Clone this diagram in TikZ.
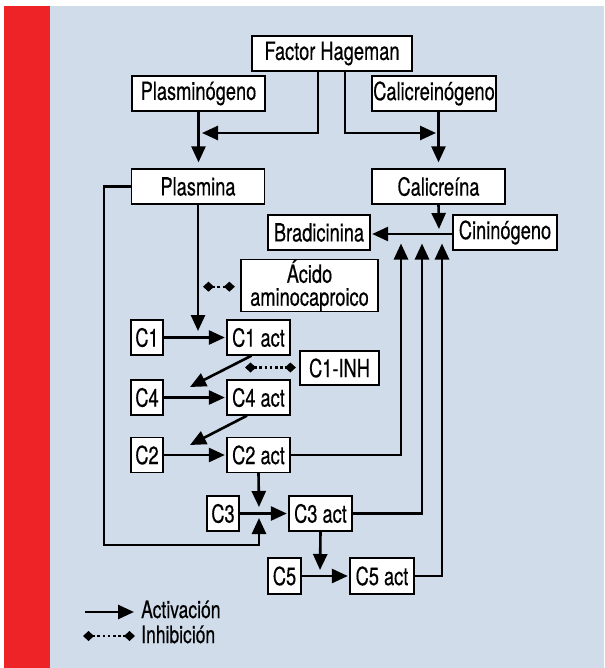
\documentclass[tikz,border=0pt]{standalone}
\usepackage{fontspec}
\setmainfont[FakeStretch=0.73,FakeBold=0.4]{TeX Gyre Heros}
\usetikzlibrary{arrows.meta}
\usetikzlibrary{positioning}

\definecolor{barred}{RGB}{238,35,39}
\definecolor{bgblue}{RGB}{208,220,234}

\begin{document}
\begin{tikzpicture}[
    x=1pt, y=-1pt,
    every node/.style={
      font=\fontsize{25}{23}\selectfont
    },
    box/.style={
      draw,
      fill=white,
      line width=1.3pt,
      inner sep=0pt,
      minimum height=35pt
    },
    legend/.style={
      anchor=west,
      inner sep=0pt,
      text height=16pt,
      text depth=4pt,
      font=\fontsize{24}{23}\selectfont
    },
    act/.style={
      line width=2.6pt,
      -{Triangle[length=16pt,width=14pt]}
    },
    inh/.style={
      line width=2.4pt,
      dash pattern=on 2.6pt off 2.6pt,
      {Diamond[length=11pt,width=10pt]}-{Diamond[length=11pt,width=10pt]}
    }
    ]
    \useasboundingbox (0,0) rectangle (604,668);
    \fill[barred] (4,6) rectangle (50,668);
    \fill[bgblue] (50,6) rectangle (604,668);

    \node[box, minimum width=160pt] (hageman) at (332,53.5) {Factor Hageman};
    \node[box, minimum width=133pt] (plasminogeno) at (198.5,93.5) {Plasminógeno};
    \node[box, minimum width=124pt] (calicreinogeno) at (434,93.5) {Calicreinógeno};
    \node[box, minimum width=133pt] (plasmina) at (198,186.5) {Plasmina};
    \node[box, minimum width=133pt] (calicreina) at (438.5,186.5) {Calicreína};
    \node[box, minimum width=102pt] (bradicinina) at (319,232.5) {Bradicinina};
    \node[box, minimum width=104pt] (cininogeno) at (505,232.5) {Cininógeno};
    \node[box, minimum width=137pt, minimum height=51pt, align=center]
      (acido) at (309.5,285.5) {Ácido\\aminocaproico};
    \node[box, minimum width=79pt, minimum height=34pt] (c1inh) at (339.5,368) {C1-INH};
    \foreach \n/\y in {1/337.5,4/397.5,2/455}{
      \node[box, minimum width=32pt] (c\n) at (147,\y) {C\n};
      \node[box, minimum width=63pt] (c\n a) at (258.5,\y) {C\n\ act};
      \draw[act, shorten >=1.5pt] (c\n) -- (c\n a);
    }
    \node[box, minimum width=32pt] (c3) at (223,513.5) {C3};
    \node[box, minimum width=63pt] (c3a) at (320.5,513.5) {C3 act};
    \node[box, minimum width=33pt, minimum height=36pt] (c5) at (284.5,576) {C5};
    \node[box, minimum width=64pt, minimum height=36pt] (c5a) at (382,576) {C5 act};

    \coordinate (jl) at (202,133);
    \coordinate (jr) at (436,133);
    \coordinate (kin) at (439,229);
    \coordinate (pc) at (198,331);
    \coordinate (ia) at (203,286.7);
    \coordinate (i1) at (245,367.5);
    \coordinate (d1) at (190,387);
    \coordinate (d2) at (190,445);
    \coordinate (j3) at (259,507);
    \coordinate (j4) at (259,518);
    \coordinate (lp) at (104,545);
    \coordinate (j5) at (320,570);
    \coordinate (k1) at (401,243.5);
    \coordinate (k2) at (422,243.5);
    \coordinate (k3) at (442,243.5);

    \draw[act] ([xshift=-14pt]hageman.south) |- (jl);
    \draw[act] ([xshift=13pt]hageman.south) |- (jr);
    \draw[act, shorten >=6pt] (plasminogeno.south) -- (plasminogeno.south |- plasmina.north);
    \draw[act, shorten >=6pt] (calicreinogeno.south -| calicreina) -- (calicreina.north);
    \draw[act] (calicreina.south) -- (kin);
    \draw[act, shorten >=1.5pt] (cininogeno.west |- 0,234) -- (bradicinina.east |- 0,234);
    \draw[act] (plasmina.south) -- (pc);
    \draw[inh, shorten >=5.5pt] (ia) -- (ia -| acido.west);
    \draw[inh, shorten >=3.5pt] (i1) -- (i1 -| c1inh.west);
    \draw[act] ([xshift=-7pt]c1a.south) -- (d1);
    \draw[act] ([xshift=-11.5pt]c4a.south) -- (d2);
    \draw[act] (c2a.east) -| (k1);
    \draw[act] (c2a.south) -- (j3);
    \draw[act, shorten >=1.5pt] (c3) -- (c3a);
    \draw[act] (plasmina.west) -| (lp) -| (j4);
    \draw[act] (c3a.east) -| (k2);
    \draw[act] (c3a.south) -- (j5);
    \draw[act, shorten >=1.5pt] (c5) -- (c5a);
    \draw[act] (c5a.east) -| (k3);

    % leyenda
    \node[legend] (lact) at (141,612) {Activación};
    \node[legend] (linh) at (141,637) {Inhibición};
    \coordinate (la) at (85,612);
    \coordinate (li) at (83,636);
    \draw[act, shorten >=7pt] (la) -- (lact.west);
    \draw[inh, shorten >=6pt] (li) -- (li -| linh.west);
  \end{tikzpicture}
\end{document}
